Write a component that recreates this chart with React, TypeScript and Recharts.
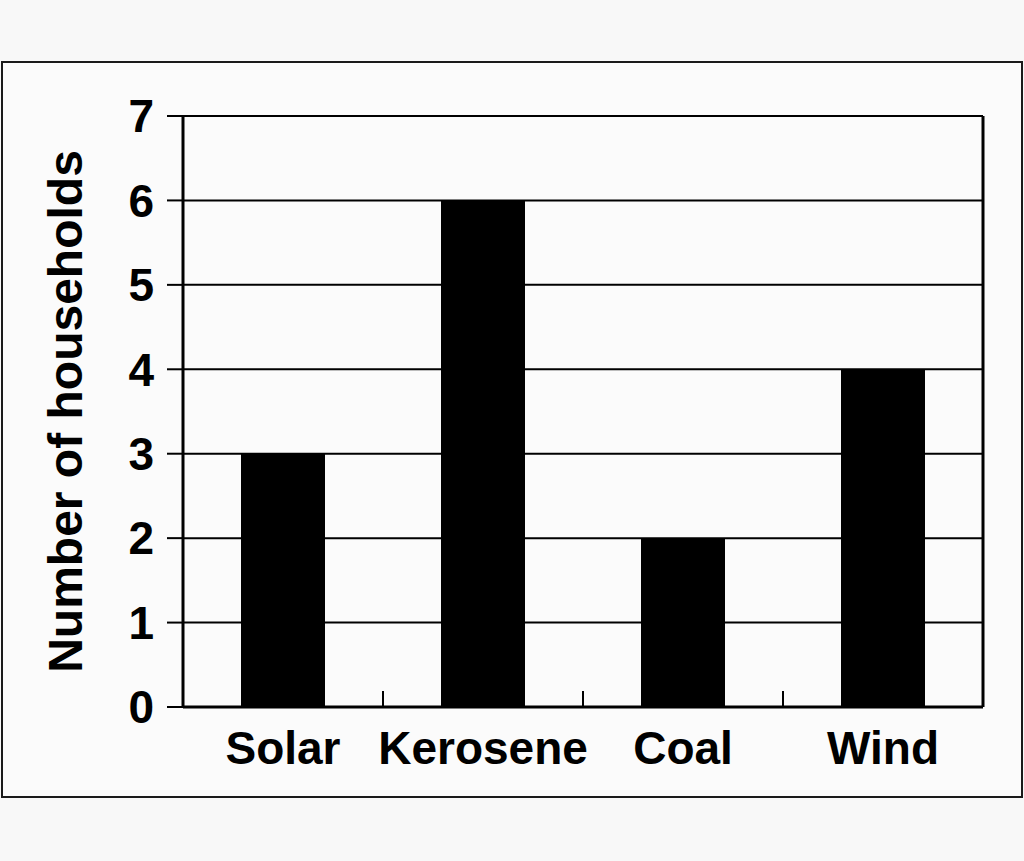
import React from 'react';
import { BarChart, Bar, XAxis, YAxis, CartesianGrid } from 'recharts';

const categories = ['Solar', 'Kerosene', 'Coal', 'Wind'];
const households = [3, 6, 2, 4];
const yTicks = [0, 1, 2, 3, 4, 5, 6, 7];

const chartData = categories.map((name, i) => ({ name, households: households[i] }));

const font = { fontFamily: '"Liberation Sans", Arial, sans-serif', fontWeight: 700 };

const X_TICK_SIZE = 8;
const X_TICK_MARGIN = 16;

// category label plus a short inward tick on the boundary to its right
function CategoryTick(props: any) {
  const { x, y, payload, index, visibleTicksCount } = props;
  const axisY = y - X_TICK_SIZE - X_TICK_MARGIN;
  const edge = x + (payload.offset || 0);
  return (
    <g>
      <text x={x} y={y} dy="0.71em" textAnchor="middle" fill="#000" fontSize={46} style={font}>
        {payload.value}
      </text>
      {index < visibleTicksCount - 1 && (
        <line x1={edge} x2={edge} y1={axisY} y2={axisY - 16} stroke="#000" strokeWidth={2} />
      )}
    </g>
  );
}

export default function App() {
  return (
    <div style={{ position: 'absolute', left: 0, top: 0, width: 1024, height: 861, background: '#f8f8f8' }}>
      {/* outer frame */}
      <div
        style={{
          position: 'absolute',
          left: 1,
          top: 61,
          width: 1022,
          height: 737,
          border: '2px solid #1a1a1a',
          boxSizing: 'border-box',
          background: '#fbfbfb',
        }}
      />
      <div style={{ position: 'absolute', left: 0, top: 0 }}>
        <BarChart
          width={1024}
          height={861}
          data={chartData}
          margin={{ top: 116, right: 41, bottom: 94, left: 0 }}
        >
          <CartesianGrid vertical={false} stroke="#000" strokeWidth={2} />
          <CartesianGrid
            horizontal={false}
            stroke="#000"
            strokeWidth={3}
            verticalCoordinatesGenerator={({ offset }: any) => [offset.left + offset.width]}
          />
          <XAxis
            dataKey="name"
            height={60}
            interval={0}
            tickLine={false}
            tickSize={X_TICK_SIZE}
            tickMargin={X_TICK_MARGIN}
            axisLine={{ stroke: '#000', strokeWidth: 3 }}
            tick={<CategoryTick />}
          />
          <YAxis
            width={183}
            domain={[0, 7]}
            ticks={yTicks}
            interval={0}
            tickSize={16}
            tickMargin={13}
            axisLine={{ stroke: '#000', strokeWidth: 3 }}
            tickLine={{ stroke: '#000', strokeWidth: 2 }}
            tick={{ fill: '#000', fontSize: 46, ...font }}
            label={{
              value: 'Number of households',
              angle: -90,
              position: 'insideLeft',
              offset: 65,
              style: { fill: '#000', fontSize: 48, textAnchor: 'middle', ...font },
            }}
          />
          <Bar dataKey="households" fill="#000" barSize={84} isAnimationActive={false} />
        </BarChart>
      </div>
    </div>
  );
}
